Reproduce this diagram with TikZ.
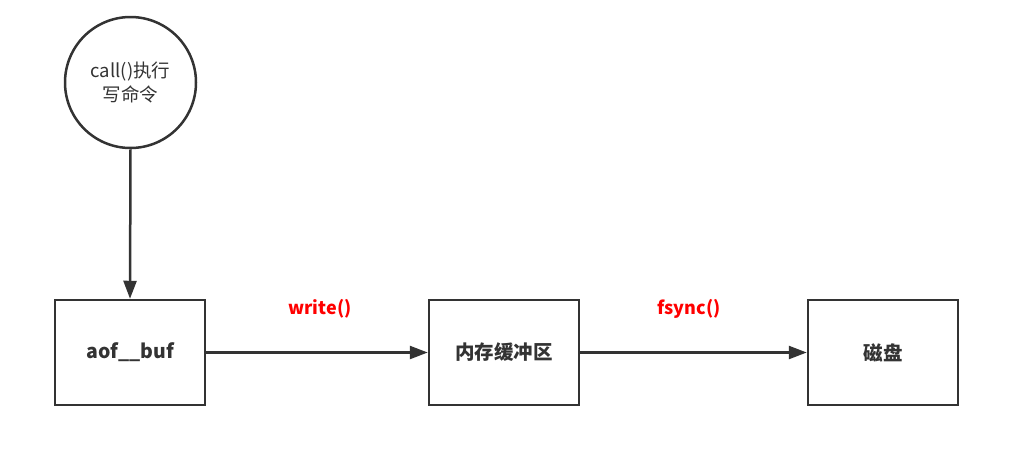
\documentclass[tikz,border=0pt]{standalone}
\usepackage{fontspec}
\setmainfont{Noto Sans CJK SC}
\usetikzlibrary{arrows.meta}
\definecolor{ink}{HTML}{333333}
\definecolor{lbl}{HTML}{FF0000}
\begin{document}
\begin{tikzpicture}[x=1pt,y=-1pt,
  box/.style={draw=ink,line width=2.5pt,minimum width=150pt,minimum height=105pt,inner sep=0pt,font=\fontsize{19.5}{22}\selectfont\bfseries,text=ink},
  conn/.style={draw=ink,line width=2.5pt,-{Triangle[length=18pt,width=13pt]}},
  lab/.style={text=lbl,font=\fontsize{18}{20}\selectfont\bfseries}]
\useasboundingbox (0,0) rectangle (1011,456);
\node[circle,draw=ink,line width=2.5pt,minimum size=131pt,inner sep=0pt,align=center,text=ink,font=\fontsize{18.5}{24}\selectfont] (c) at (130.5,82.5) {call()执行\\写命令};
\node[box] (a) at (130,352.5) {aof\_\_buf};
\node[box] (m) at (504,352.5) {内存缓冲区};
\node[box] (d) at (883,352.5) {磁盘};
\draw[conn] (c.south) -- (a.north);
\draw[conn] (a.east) -- (m.west);
\draw[conn] (m.east) -- (d.west);
\node[lab] (w) at (320,309) {write()};
\node[lab] (f) at (689,309) {fsync()};
\end{tikzpicture}
\end{document}
